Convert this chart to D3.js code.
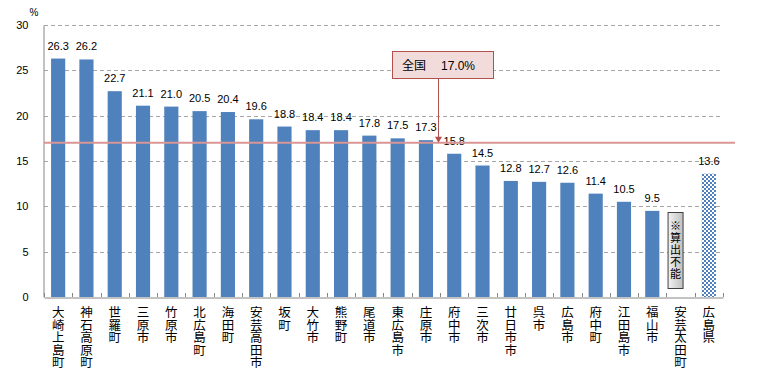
<!DOCTYPE html>
<html><head><meta charset="utf-8">
<script src="https://cdn.jsdelivr.net/npm/d3@7"></script>
<style>
html,body{margin:0;padding:0;background:#fff;}
svg{display:block;}
.vert{writing-mode:vertical-rl;text-orientation:upright;}
</style></head>
<body>
<svg id="c" width="757" height="379"></svg>
<script>
const categories = ["大崎上島町","神石高原町","世羅町","三原市","竹原市","北広島町","海田町","安芸高田市","坂町","大竹市","熊野町","尾道市","東広島市","庄原市","府中市","三次市","廿日市市","呉市","広島市","府中町","江田島市","福山市","安芸太田町","広島県"];
const values = [26.3,26.2,22.7,21.1,21.0,20.5,20.4,19.6,18.8,18.4,18.4,17.8,17.5,17.3,15.8,14.5,12.8,12.7,12.6,11.4,10.5,9.5,null,13.6];
const highlightCategory = "広島県";
const missingCategory = "安芸太田町";
const missingText = "※算出不能";
const nationalValue = 17.0;
const nationalLabel = "全国";
const yTicks = [0,5,10,15,20,25,30];
const yUnit = "%";

const svg = d3.select("#c");
const L = 44, R = 723, T = 25, B = 297;
const x = d3.scaleBand().domain(categories).range([L, R]).paddingInner(0.5).paddingOuter(0.25);
const y = d3.scaleLinear().domain([0, 30]).range([B, T]);
const numFont = "'Liberation Sans', Arial, sans-serif";
const jpFont = "'Noto Sans CJK JP', sans-serif";

// pattern
const defs = svg.append("defs");
const pat = defs.append("pattern").attr("id","chk").attr("width",4).attr("height",4).attr("patternUnits","userSpaceOnUse");
pat.append("rect").attr("width",4).attr("height",4).attr("fill","#ffffff");
pat.append("rect").attr("width",2).attr("height",2).attr("fill","#4f81bd");
pat.append("rect").attr("x",2).attr("y",2).attr("width",2).attr("height",2).attr("fill","#4f81bd");
const gg = defs.append("linearGradient").attr("id","gbox").attr("x1",0).attr("y1",0).attr("x2",1).attr("y2",0);
gg.append("stop").attr("offset","0%").attr("stop-color","#f2f2f2");
gg.append("stop").attr("offset","100%").attr("stop-color","#bfbfbf");

// gridlines
svg.append("g").selectAll("line").data(yTicks.filter(d => d > 0)).join("line")
  .attr("x1", L).attr("x2", R).attr("y1", d => Math.round(y(d)) + 0.5).attr("y2", d => Math.round(y(d)) + 0.5)
  .attr("stroke", "#a6a6a6").attr("stroke-width", 1).attr("stroke-dasharray", "4,3");

// y axis
const yAxis = svg.append("g").attr("transform", `translate(${L - 0.5},0)`)
  .call(d3.axisLeft(y).tickValues(yTicks).tickSize(0).tickPadding(15).tickFormat(d3.format("d")));
yAxis.select(".domain").attr("stroke", "#868686");
yAxis.selectAll("text").attr("font-family", numFont).attr("font-size", "11px").attr("fill", "#000");
svg.append("text").attr("x", 34).attr("y", 16).attr("text-anchor", "middle")
  .attr("font-family", numFont).attr("font-size", "10px").text(yUnit);

// bars
svg.append("g").selectAll("rect").data(categories.map((c, i) => ({c, v: values[i]})).filter(d => d.v != null)).join("rect")
  .attr("x", d => x(d.c)).attr("width", x.bandwidth())
  .attr("y", d => y(d.v)).attr("height", d => y(0) - y(d.v))
  .attr("fill", d => d.c === highlightCategory ? "url(#chk)" : "#4f81bd");

// x axis
const xAxis = svg.append("g").attr("transform", `translate(0,${B + 0.5})`)
  .call(d3.axisBottom(x).tickSize(0).tickFormat(""));
xAxis.select(".domain").attr("stroke", "#868686");
const bounds = categories.map(c => x(c) - x.step() * 0.25).concat([R]);
svg.append("g").selectAll("line").data(bounds).join("line")
  .attr("x1", d => Math.round(d) + 0.5).attr("x2", d => Math.round(d) + 0.5)
  .attr("y1", B - 4).attr("y2", B).attr("stroke", "#868686");

// value labels
svg.append("g").selectAll("text").data(categories.map((c, i) => ({c, v: values[i]})).filter(d => d.v != null)).join("text")
  .attr("x", d => x(d.c) + x.bandwidth() / 2).attr("y", d => y(d.v) - 9)
  .attr("text-anchor", "middle").attr("font-family", numFont).attr("font-size", "11px").attr("fill", "#000")
  .text(d => d.v.toFixed(1));

// category labels (vertical)
svg.append("g").selectAll("text").data(categories).join("text")
  .attr("class", "vert")
  .attr("x", c => x(c) + x.bandwidth() / 2).attr("y", 306)
  .attr("font-family", jpFont).attr("font-size", "12.5px").attr("fill", "#000")
  .text(c => c);

// national line
svg.append("line").attr("x1", L).attr("x2", 735).attr("y1", y(nationalValue)).attr("y2", y(nationalValue))
  .attr("stroke", "#d99694").attr("stroke-width", 2);

// annotation
const ax = 438;
svg.append("line").attr("x1", ax + 0.5).attr("x2", ax + 0.5).attr("y1", 79).attr("y2", y(nationalValue) - 5)
  .attr("stroke", "#b3504d").attr("stroke-width", 1);
svg.append("path").attr("d", `M${ax - 3},${y(nationalValue) - 6} L${ax + 4},${y(nationalValue) - 6} L${ax + 0.5},${y(nationalValue)} Z`)
  .attr("fill", "#b3504d");
svg.append("rect").attr("x", 392.5).attr("y", 51.5).attr("width", 101).attr("height", 27)
  .attr("fill", "#f2dcdb").attr("stroke", "#b3504d").attr("stroke-width", 1);
svg.append("text").attr("x", 402).attr("y", 70).attr("font-size", "12px").attr("fill", "#000")
  .attr("font-family", jpFont).text(nationalLabel);
svg.append("text").attr("x", 441).attr("y", 70).attr("font-size", "12px").attr("fill", "#000")
  .attr("font-family", numFont).text(nationalValue.toFixed(1) + "%");

// missing box
const mx = x(missingCategory) + x.bandwidth() / 2 - 5;
svg.append("rect").attr("x", mx - 7.5).attr("y", 212.5).attr("width", 15).attr("height", 76)
  .attr("fill", "url(#gbox)").attr("stroke", "#404040").attr("stroke-width", 1);
svg.append("text").attr("class", "vert")
  .attr("x", mx).attr("y", 220)
  .attr("font-family", jpFont).attr("font-size", "11px").attr("letter-spacing", "1px").attr("fill", "#000")
  .text(missingText);
</script>
</body></html>
